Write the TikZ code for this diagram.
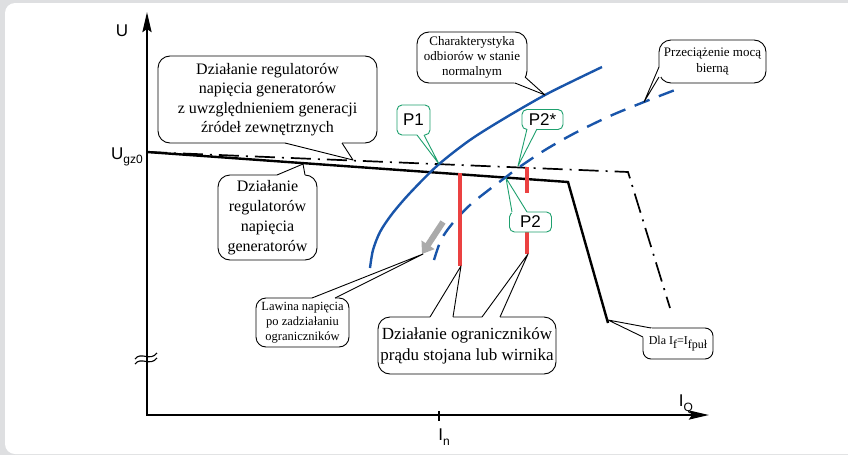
\documentclass[tikz,border=0pt]{standalone}
\usepackage{fontspec}
\setmainfont{Liberation Serif}
\newfontfamily\arialf{Liberation Sans}
\usetikzlibrary{calc,arrows.meta}
\definecolor{bggray}{RGB}{222,223,225}
\definecolor{grn}{RGB}{30,160,110}
\definecolor{blu}{RGB}{25,85,170}
\definecolor{redl}{RGB}{235,65,65}
\definecolor{arrgray}{RGB}{170,170,170}
\newcommand\sbs[1]{\raisebox{-0.28em}{\fontsize{12}{12}\selectfont #1}}
\newcommand\ptr[5][black]{%
  \fill[white] ($#2+#5$) -- #2 -- #4 -- #3 -- ($#3+#5$) -- cycle;
  \draw[#1, line width=0.9pt, line join=round] #2 -- #4 -- #3;}
\tikzset{
  cbox/.style={draw=black, fill=white, line width=0.9pt, rounded corners=12pt,
    inner sep=0pt, align=center},
  gbox/.style={draw=grn, fill=white, line width=0.9pt, rounded corners=5pt,
    inner sep=0pt, font=\arialf\fontsize{17}{17}\selectfont},
  sanslbl/.style={font=\arialf\fontsize{17}{17}\selectfont, inner sep=0pt},
  axisline/.style={line width=2.6pt, line join=miter,
    {Stealth[length=20pt,width=9pt,inset=3pt]}-{Stealth[length=20pt,width=9pt,inset=3pt]}},
  charline/.style={line width=2.4pt, line join=miter},
  dashdotline/.style={line width=1.7pt, dash pattern=on 20pt off 7pt on 2pt off 7pt},
  bluesolid/.style={blu, line width=2.4pt},
  bluedash/.style={blu, line width=2.4pt, dash pattern=on 16pt off 10pt},
  redline/.style={redl, line width=3.2pt},
  wave/.style={line width=1.1pt},
}
\begin{document}
\begin{tikzpicture}[x=1pt,y=-1pt]
\useasboundingbox (0,0) rectangle (848,455);
\fill[bggray] (0,0) rectangle (848,455);
\fill[white, rounded corners=10pt] (5,3) rectangle (880,454);

% axes
\coordinate (O) at (147,415);
\coordinate (Ytop) at (147,12);
\coordinate (Xend) at (709,415);
\draw[axisline] (Ytop) -- (O) -- (Xend);
\coordinate (tickA) at (439,411);
\coordinate (tickB) at (439,421);
\draw[line width=2pt] (tickA) -- (tickB);

% axis break mark
\coordinate (w1a) at (135,359);
\coordinate (w1b) at (157,353);
\coordinate (w2a) at (135,364);
\coordinate (w2b) at (157,358);
\draw[wave] (w1a) .. controls (141,351) and (150,362) .. (w1b);
\draw[wave] (w2a) .. controls (141,356) and (150,367) .. (w2b);

% characteristics
\coordinate (S0) at (147,152);
\coordinate (S1) at (568,182);
\coordinate (S2) at (608,323);
\coordinate (D1) at (628,172);
\coordinate (D2) at (670,308);
\draw[dashdotline] (S0) -- (D1) -- (D2);
\draw[charline] (S0) -- (S1) -- (S2);

\draw[bluesolid] plot[smooth] coordinates {(370,268) (373,250) (380,232) (392,214) (410,193) (438,165) (470,140) (505,118) (545,95) (575,80) (602,67)};
\draw[bluedash] plot[smooth] coordinates {(434,260) (441,240) (452,224) (470,205) (490,189) (506,177) (518,168) (545,150) (575,133) (610,116) (644,102) (675,90)};

% red limiter lines
\coordinate (R1a) at (460,173);
\coordinate (R1b) at (460,266);
\coordinate (R2a) at (527,167);
\coordinate (R2b) at (527,193);
\coordinate (R2c) at (527,231);
\coordinate (R2d) at (527,254);
\draw[redline] (R1a) -- (R1b);
\draw[redline] (R2a) -- (R2b);
\draw[redline] (R2c) -- (R2d);

% gray collapse arrow
\coordinate (GA) at (443,222);
\coordinate (GB) at (422,254);
\draw[arrgray, line width=6pt, -{Triangle[length=11pt,width=15pt]}] (GA) -- (GB);

% callouts
\node[cbox, minimum width=219pt, minimum height=87pt, font=\fontsize{16}{19.5}\selectfont] (cA) at (267.5,99.5)
  {Działanie regulatorów\\napięcia generatorów\\z uwzględnieniem generacji\\źródeł zewnętrznych};
\ptr{(285,143)}{(342,143)}{(353,160)}{(0,-2)}

\node[cbox, minimum width=99pt, minimum height=85pt, font=\fontsize{16}{20}\selectfont] (cB) at (267.5,217.5)
  {Działanie\\regulatorów\\napięcia\\generatorów};
\ptr{(277,175)}{(305,175)}{(303,164)}{(0,2)}

\node[cbox, minimum width=110pt, minimum height=51pt, font=\fontsize{13}{15}\selectfont] (cC) at (472,57.5)
  {Charakterystyka\\odbiorów w stanie\\normalnym};
\ptr{(515,83)}{(525,77)}{(545,95)}{(-2,-2)}

\node[cbox, minimum width=107pt, minimum height=43pt, font=\fontsize{13}{16.5}\selectfont] (cD) at (712.5,61.5)
  {Przeciążenie mocą\\bierną};
\ptr{(659,67)}{(659,77)}{(644,102)}{(2,0)}

\node[cbox, minimum width=93pt, minimum height=49pt, rounded corners=10pt, font=\fontsize{12.5}{15}\selectfont] (cE) at (302.5,322.5)
  {Lawina napięcia\\po zadziałaniu\\ograniczników};
\ptr{(312,298)}{(335,298)}{(423,254)}{(0,2)}

\node[cbox, minimum width=178pt, minimum height=57pt, font=\fontsize{17}{21}\selectfont] (cF) at (467,345.5)
  {Działanie ograniczników\\prądu stojana lub wirnika};
\ptr{(430,317)}{(453,317)}{(461,266)}{(0,2)}
\ptr{(482,317)}{(500,317)}{(528,254)}{(0,2)}

\node[cbox, minimum width=70pt, minimum height=31pt, rounded corners=8pt, font=\fontsize{12}{14}\selectfont] (cG) at (678,343.5)
  {Dla I\sbs{f}=I\sbs{fpuł}};
\ptr{(651,328)}{(643,337)}{(608,320)}{(2,2)}

% green point labels
\node[gbox, minimum width=33pt, minimum height=30pt] (p1) at (413.5,120) {P1};
\ptr[grn]{(417,135)}{(424,135)}{(439,164)}{(0,-2)}
\node[gbox, minimum width=41pt, minimum height=20pt] (p2s) at (542.5,119.5) {P2*};
\ptr[grn]{(527,129)}{(537,129)}{(518,166)}{(0,-2)}
\node[gbox, minimum width=42pt, minimum height=20pt] (p2) at (530.5,222) {P2};
\ptr[grn]{(512,212)}{(527,212)}{(506,178)}{(0,2)}

% axis labels
\node[sanslbl] (lU) at (122,31) {U};
\node[sanslbl] (lUgz) at (127,157) {U\sbs{gz0}};
\node[sanslbl] (lIQ) at (686,404) {I\sbs{Q}};
\node[sanslbl] (lIn) at (444,437) {I\sbs{n}};
\end{tikzpicture}
\end{document}
